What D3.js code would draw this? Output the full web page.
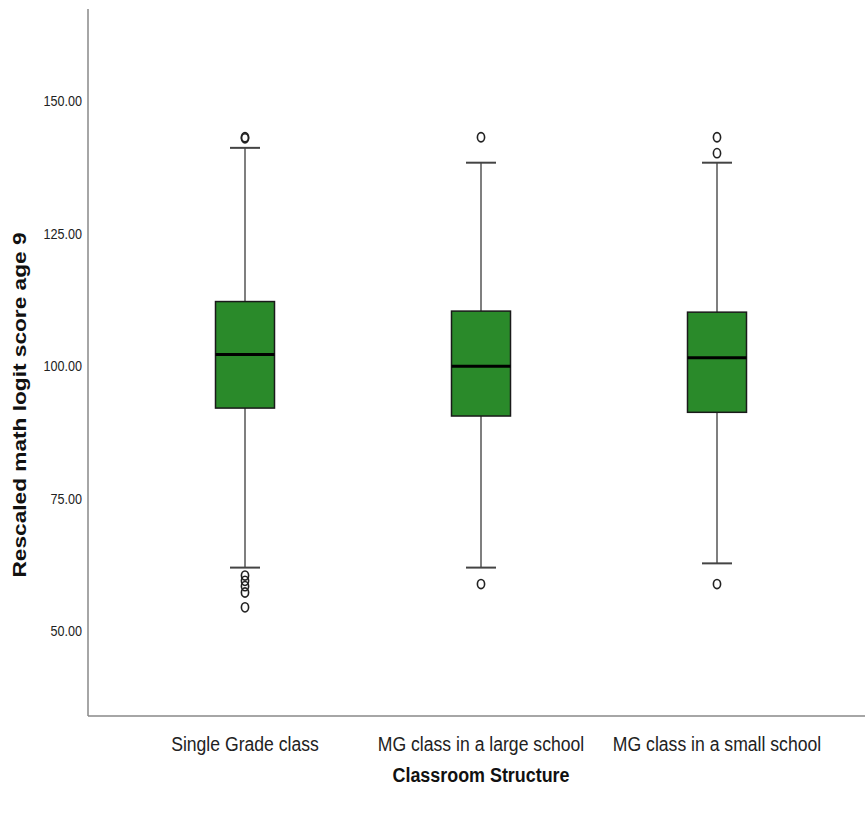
<!DOCTYPE html>
<html><head><meta charset="utf-8">
<script src="https://cdn.jsdelivr.net/npm/d3@7"></script>
<style>body{margin:0;background:#fff}</style>
</head><body>
<svg id="chart" width="865" height="814"></svg>
<script>
const categories = ["Single Grade class", "MG class in a large school", "MG class in a small school"];
const q1Values = [92.1, 90.6, 91.3];
const medianValues = [102.2, 100.0, 101.6];
const q3Values = [112.2, 110.4, 110.2];
const whiskerLow = [62.0, 62.0, 62.8];
const whiskerHigh = [141.2, 138.4, 138.4];
const outliers = [
  [143.2, 143.0, 60.5, 59.5, 58.5, 57.3, 54.5],
  [143.2, 58.9],
  [143.2, 140.2, 58.9]
];
const yTicks = [50, 75, 100, 125, 150];
const yTitle = "Rescaled math logit score age 9";
const xTitle = "Classroom Structure";

(function () {
const svg = d3.select("#chart");
const mLeft = 88, mBottom = 716, mTop = 9, mRight = 865;
const y = d3.scaleLinear().domain([34, 167.4]).range([mBottom, mTop]);
const x = d3.scaleBand().domain(categories).range([127, 835]);
const boxW = 59;
const narrow = "'Liberation Sans Narrow','Arial Narrow','Liberation Sans',Arial,sans-serif";

function squeeze(sel, factor) {
  sel.each(function () {
    const len = this.getComputedTextLength();
    d3.select(this).attr("textLength", len * factor).attr("lengthAdjust", "spacingAndGlyphs");
  });
}

// y axis
const yAxis = svg.append("g").attr("transform", `translate(${mLeft},0)`)
  .call(d3.axisLeft(y).tickValues(yTicks).tickFormat(d3.format(".2f")).tickSize(0).tickPadding(6));
yAxis.select(".domain").remove();
yAxis.selectAll("text").attr("font-family", narrow).attr("font-size", 14).attr("fill", "#222");
squeeze(yAxis.selectAll("text"), 0.9);
svg.append("line").attr("x1", mLeft).attr("x2", mLeft).attr("y1", mTop).attr("y2", mBottom)
  .attr("stroke", "#888").attr("stroke-width", 1.5);

// x axis
const xAxis = svg.append("g").attr("transform", `translate(0,${mBottom})`)
  .call(d3.axisBottom(x).tickSize(0).tickPadding(21));
xAxis.select(".domain").remove();
xAxis.selectAll("text").attr("font-family", narrow).attr("font-size", 20).attr("fill", "#222");
squeeze(xAxis.selectAll("text"), 0.88);
svg.append("line").attr("x1", mLeft).attr("x2", mRight).attr("y1", mBottom).attr("y2", mBottom)
  .attr("stroke", "#888").attr("stroke-width", 1.5);

// boxes
categories.forEach((c, i) => {
  const cx = x(c) + x.bandwidth() / 2;
  const g = svg.append("g");
  g.append("line").attr("x1", cx).attr("x2", cx).attr("y1", y(q3Values[i])).attr("y2", y(whiskerHigh[i]))
    .attr("stroke", "#555").attr("stroke-width", 1.5);
  g.append("line").attr("x1", cx).attr("x2", cx).attr("y1", y(q1Values[i])).attr("y2", y(whiskerLow[i]))
    .attr("stroke", "#555").attr("stroke-width", 1.5);
  [whiskerHigh[i], whiskerLow[i]].forEach(v => {
    g.append("line").attr("x1", cx - 15).attr("x2", cx + 15).attr("y1", y(v)).attr("y2", y(v))
      .attr("stroke", "#444").attr("stroke-width", 2);
  });
  g.append("rect").attr("x", cx - boxW / 2).attr("width", boxW)
    .attr("y", y(q3Values[i])).attr("height", y(q1Values[i]) - y(q3Values[i]))
    .attr("fill", "#2a8a2a").attr("stroke", "#1a1a1a").attr("stroke-width", 1.5);
  g.append("line").attr("x1", cx - boxW / 2).attr("x2", cx + boxW / 2)
    .attr("y1", y(medianValues[i])).attr("y2", y(medianValues[i]))
    .attr("stroke", "#000").attr("stroke-width", 3);
  outliers[i].forEach(v => {
    g.append("ellipse").attr("cx", cx).attr("cy", y(v)).attr("rx", 3.6).attr("ry", 4.6)
      .attr("fill", "none").attr("stroke", "#222").attr("stroke-width", 1.6);
  });
});

// titles
svg.append("text").attr("transform", `translate(26,405) rotate(-90)`)
  .attr("text-anchor", "middle").attr("font-family", "'Liberation Sans',Arial,sans-serif")
  .attr("font-weight", "bold").attr("font-size", 18).attr("fill", "#111")
  .attr("textLength", 345).attr("lengthAdjust", "spacingAndGlyphs").text(yTitle);
svg.append("text").attr("x", 481).attr("y", 782).attr("text-anchor", "middle")
  .attr("font-family", narrow)
  .attr("font-weight", "bold").attr("font-size", 20).attr("fill", "#111")
  .attr("textLength", 177).attr("lengthAdjust", "spacingAndGlyphs").text(xTitle);
})();
</script>
</body></html>
